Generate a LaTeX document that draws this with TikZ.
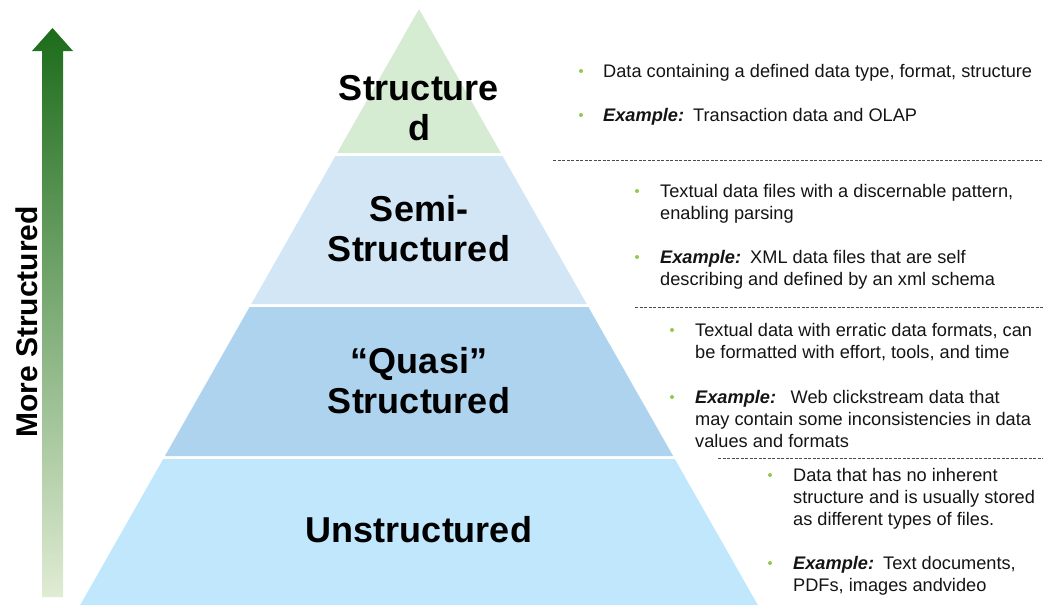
\documentclass[tikz,border=0pt]{standalone}
\usepackage{fontspec}
\setmainfont{Liberation Sans}
\definecolor{tierA}{RGB}{214,236,210}
\definecolor{tierB}{RGB}{211,230,245}
\definecolor{tierC}{RGB}{173,211,238}
\definecolor{tierD}{RGB}{192,231,252}
\definecolor{bulletgreen}{RGB}{146,200,80}
\definecolor{arrowtop}{RGB}{28,108,26}
\definecolor{arrowmid}{RGB}{150,180,100}
\definecolor{arrowbot}{RGB}{224,236,212}
\definecolor{ink}{RGB}{20,20,20}
\begin{document}
\begin{tikzpicture}[x=1pt,y=-1pt,
  tierlabel/.style={font=\fontsize{36}{40}\selectfont\bfseries, align=center, text=black, inner sep=0pt},
  % multi-line descriptions are anchored at the baseline of their last line
  desc/.style={font=\fontsize{18.2}{22}\selectfont, align=left, anchor=base west, inner sep=0pt, text=ink},
  dot/.style={circle, fill=bulletgreen, inner sep=0pt, minimum size=4pt},
  sep/.style={dash pattern=on 3pt off 1.5pt, line width=0.8pt, draw=black!70}]
\useasboundingbox (0,0) rectangle (1043,605);

% axis arrow with vertical gradient
\shade[top color=arrowtop, middle color=arrowmid, bottom color=arrowbot]
  (42,597) -- (42,51) -- (32,51) -- (52.5,28) -- (73,51) -- (63,51) -- (63,597) -- cycle;
\node[rotate=90, font=\fontsize{30}{36}\selectfont\bfseries, text=black] (axis) at (27,322) {More Structured};

% pyramid tiers
\fill[tierA] (419,9) -- (500.9,153) -- (337.1,153) -- cycle;
\fill[tierB] (335.4,156) -- (502.6,156) -- (586.7,304) -- (251.3,304) -- cycle;
\fill[tierC] (249.6,307) -- (588.4,307) -- (673.1,456) -- (164.9,456) -- cycle;
\fill[tierD] (163.2,459) -- (674.8,459) -- (757.8,605) -- (80.2,605) -- cycle;

\node[tierlabel] (lA) at (419,108) {Structure\\d};
\node[tierlabel] (lB) at (419,229) {Semi-\\Structured};
\node[tierlabel] (lC) at (419,381) {“Quasi”\\Structured};
\node[tierlabel] (lD) at (419,530) {Unstructured};

% separators
\coordinate (s1a) at (553,160); \coordinate (s1b) at (1043,160);
\coordinate (s2a) at (635,307); \coordinate (s2b) at (1043,307);
\coordinate (s3a) at (718,458); \coordinate (s3b) at (1043,458);
\draw[sep] (s1a) -- (s1b);
\draw[sep] (s2a) -- (s2b);
\draw[sep] (s3a) -- (s3b);

% structured
\node[dot] (dA1) at (581,71) {};
\node[desc] (tA1) at (603,77) {Data containing a defined data type, format, structure};
\node[dot] (dA2) at (581,115) {};
\node[desc] (tA2) at (603,121) {\textbf{\textit{Example:}}\hspace{0.5em}Transaction data and OLAP};

% semi-structured
\node[dot] (dB1) at (637,191) {};
\node[desc] (tB1) at (660,219) {Textual data files with a discernable pattern,\\enabling parsing};
\node[dot] (dB2) at (637,257) {};
\node[desc] (tB2) at (660,285) {\textbf{\textit{Example:}}\hspace{0.5em}XML data files that are self\\describing and defined by an xml schema};

% quasi-structured
\node[dot] (dC1) at (672,330) {};
\node[desc] (tC1) at (695,358) {Textual data with erratic data formats, can\\be formatted with effort, tools, and time};
\node[dot] (dC2) at (672,397) {};
\node[desc] (tC2) at (695,447) {\textbf{\textit{Example:}}\hspace{0.8em}Web clickstream data that\\may contain some inconsistencies in data\\values and formats};

% unstructured
\node[dot] (dD1) at (770,475) {};
\node[desc] (tD1) at (793,525) {Data that has no inherent\\structure and is usually stored\\as different types of files.};
\node[dot] (dD2) at (770,563) {};
\node[desc] (tD2) at (793,591) {\textbf{\textit{Example:}}\hspace{0.5em}Text documents,\\PDFs, images andvideo};
\end{tikzpicture}
\end{document}
